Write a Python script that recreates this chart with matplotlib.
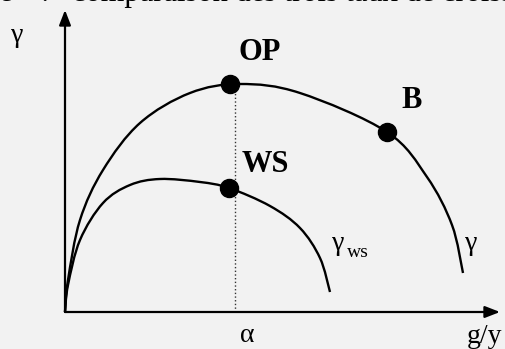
import numpy as np
import matplotlib.pyplot as plt
from matplotlib.path import Path
from matplotlib.patches import PathPatch

plt.rcParams['font.family'] = ['Liberation Serif', 'DejaVu Serif']

BG = '#f2f2f2'

# gamma curve (growth rate), read as (g/y, gamma) pairs
gamma_x = [0, 3, 15, 38, 75, 125, 175, 235, 322, 362, 387, 398]
gamma_y = [0, 32, 92, 142, 189, 219, 228, 219, 180, 135, 87, 39]

# gamma_ws curve
ws_x = [0, 3, 15, 38, 65, 95, 135, 164, 205, 235, 255, 265]
ws_y = [0, 27, 72, 109, 127, 133, 130, 124, 106, 84, 54, 20]

# marked points
points = {'OP': (165, 228), 'B': (322, 180), 'WS': (164, 124)}
alpha_x = 170
x_end, y_end = 435, 302


def smooth_path(xs, ys):
    # Catmull-Rom through the points, written as cubic Bezier segments
    p = np.column_stack([xs, ys]).astype(float)
    ext = np.vstack([p[0], p, p[-1]])
    verts = [p[0]]
    codes = [Path.MOVETO]
    for i in range(1, len(ext) - 2):
        p0, p1, p2, p3 = ext[i - 1], ext[i], ext[i + 1], ext[i + 2]
        c1 = p1 + (p2 - p0) / 6.0
        c2 = p2 - (p3 - p1) / 6.0
        verts += [c1, c2, p2]
        codes += [Path.CURVE4] * 3
    return Path(verts, codes)


fig = plt.figure(figsize=(5.06, 3.49), dpi=100, facecolor=BG)
ax = fig.add_axes([0, 0, 1, 1], facecolor=BG)
ax.set_xlim(-65, 441)
ax.set_ylim(-37, 312)
ax.axis('off')

# axes with arrow heads
ax.annotate('', xy=(x_end, 0), xytext=(0, 0),
            arrowprops=dict(arrowstyle='-|>,head_length=0.9,head_width=0.35',
                            lw=1.6, color='black', shrinkA=0, shrinkB=0))
ax.annotate('', xy=(0, y_end), xytext=(0, 0),
            arrowprops=dict(arrowstyle='-|>,head_length=0.9,head_width=0.35',
                            lw=1.6, color='black', shrinkA=0, shrinkB=0))

# dotted guide at alpha
ax.plot([alpha_x, alpha_x], [0, points['OP'][1]], ls=':', lw=1.0, color='#333333')

for xs, ys in [(gamma_x, gamma_y), (ws_x, ws_y)]:
    ax.add_patch(PathPatch(smooth_path(xs, ys), fill=False, lw=1.7,
                           edgecolor='black', capstyle='butt'))

for name, (px, py) in points.items():
    ax.plot(px, py, 'o', ms=13, color='black', zorder=5)

ax.text(195, 260, 'OP', fontsize=22, fontweight='bold', ha='center', va='center')
ax.text(347, 212, 'B', fontsize=22, fontweight='bold', ha='center', va='center')
ax.text(200, 148, 'WS', fontsize=22, fontweight='bold', ha='center', va='center')

ax.text(-48, 276, 'γ', fontsize=20, ha='center', va='center')
ax.text(267, 62, 'γ', fontsize=20, ha='left', va='baseline')
ax.text(282, 55, 'ws', fontsize=14, ha='left', va='baseline')
ax.text(400, 62, 'γ', fontsize=20, ha='left', va='baseline')
ax.text(182, -24, 'α', fontsize=20, ha='center', va='center')
ax.text(402, -31, 'g/y', fontsize=20, ha='left', va='baseline')

# caption line running off the top edge (justified, so wide gaps)
cap_y = 1 - 1 / 349
fig.text(13 / 506, cap_y, 'Figure', fontsize=22, ha='right', va='baseline')
fig.text(41 / 506, cap_y, ':', fontsize=22, ha='left', va='baseline')
fig.text(72 / 506, cap_y, 'comparaison des trois taux de croissance',
         fontsize=22, ha='left', va='baseline')

fig.savefig('out.png', dpi=100, facecolor=BG)
